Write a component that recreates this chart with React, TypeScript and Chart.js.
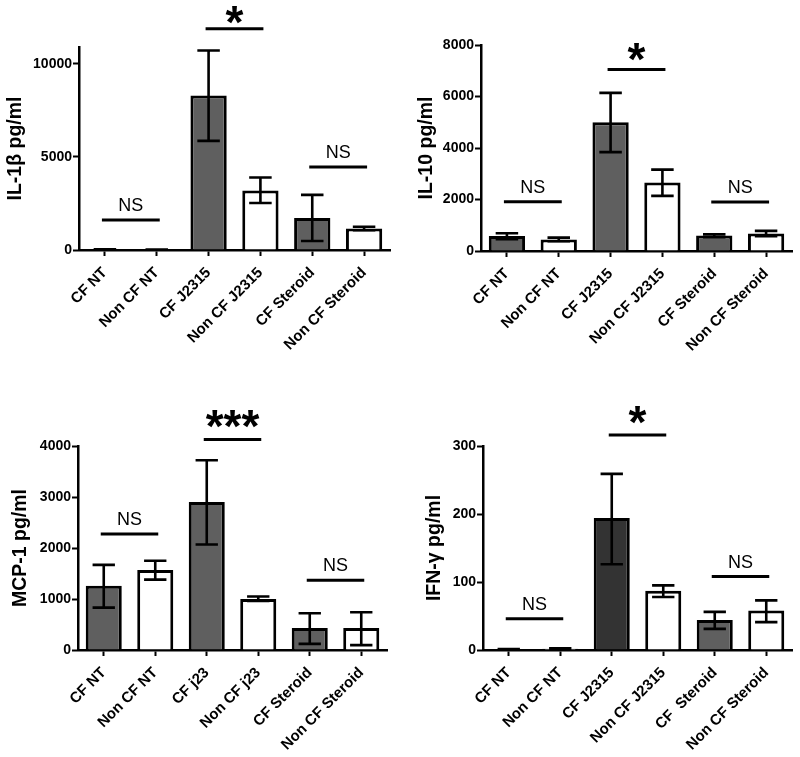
import React, { useEffect, useRef } from 'react';
import { Chart, registerables } from 'chart.js';

Chart.register(...registerables);

const FONT = "'Liberation Sans', Arial, Helvetica, sans-serif";

// ---------- data ----------
const labelsStd = ['CF NT', 'Non CF NT', 'CF J2315', 'Non CF J2315', 'CF Steroid', 'Non CF Steroid'];
const labelsMcp = ['CF NT', 'Non CF NT', 'CF j23', 'Non CF j23', 'CF Steroid', 'Non CF Steroid'];
const labelsIfn = ['CF NT', 'Non CF NT', 'CF J2315', 'Non CF J2315', 'CF  Steroid', 'Non CF Steroid'];

const il1bMean = [30, 20, 8300, 3200, 1720, 1150];
const il1bLow = [20, 10, 5860, 2520, 480, 1060];
const il1bHigh = [40, 30, 10710, 3890, 2960, 1250];
const il1bTicks = [0, 5000, 10000];
const il1bSig = ['NS', '*', 'NS'];
const il1bSigLevel = [1610, 11880, 4460];

const il10Mean = [580, 450, 5000, 2660, 600, 680];
const il10Low = [460, 380, 3840, 2140, 540, 570];
const il10High = [690, 520, 6140, 3160, 650, 780];
const il10Ticks = [0, 2000, 4000, 6000, 8000];
const il10Sig = ['NS', '*', 'NS'];
const il10SigLevel = [1915, 7050, 1900];

const mcp1Mean = [1260, 1570, 2900, 1000, 430, 430];
const mcp1Low = [830, 1380, 2070, 960, 120, 95];
const mcp1High = [1670, 1750, 3720, 1050, 720, 740];
const mcp1Ticks = [0, 1000, 2000, 3000, 4000];
const mcp1Sig = ['NS', '***', 'NS'];
const mcp1SigLevel = [2276, 4129, 1370];

const ifngMean = [1, 2, 194, 87, 44, 58];
const ifngLow = [0.5, 1.5, 126, 78, 31, 41];
const ifngHigh = [1.5, 2.5, 259, 95, 56, 73];
const ifngTicks = [0, 100, 200, 300];
const ifngSig = ['NS', '*', 'NS'];
const ifngSigLevel = [46, 316, 108];

const sigPairs = [[0, 1], [2, 3], [4, 5]];

const GRAY = '#5f5f5f';
const DARK = '#333333';

type PanelProps = {
  left: number; top: number; width: number; height: number;
  labels: string[]; mean: number[]; low: number[]; high: number[];
  colors: string[];
  sig: string[]; sigLevel: number[];
  yMax: number; yTicks: number[]; yTitle: string; titlePad: number;
  axisW: number; axisH: number; padTop: number; padRight: number;
  starOffset: number;
};

function Panel(p: PanelProps) {
  const ref = useRef<HTMLCanvasElement>(null);
  useEffect(() => {
    if (!ref.current) return;
    const overlay = {
      id: 'overlay',
      afterDatasetsDraw(chart: any) {
        const ctx = chart.ctx;
        const y = chart.scales.y;
        const meta = chart.getDatasetMeta(0);
        ctx.save();
        ctx.strokeStyle = '#000';
        ctx.lineWidth = 2.6;
        meta.data.forEach((bar: any, i: number) => {
          const cx = bar.x;
          const hw = bar.width * 0.31;
          const yl = y.getPixelForValue(p.low[i]);
          const yh = y.getPixelForValue(p.high[i]);
          ctx.beginPath();
          ctx.moveTo(cx, yl); ctx.lineTo(cx, yh);
          ctx.moveTo(cx - hw, yl); ctx.lineTo(cx + hw, yl);
          ctx.moveTo(cx - hw, yh); ctx.lineTo(cx + hw, yh);
          ctx.stroke();
        });
        ctx.lineWidth = 3;
        sigPairs.forEach(([a, b], k) => {
          const xa = meta.data[a].x - 3;
          const xb = meta.data[b].x + 3;
          const ly = y.getPixelForValue(p.sigLevel[k]);
          ctx.beginPath(); ctx.moveTo(xa, ly); ctx.lineTo(xb, ly); ctx.stroke();
          const txt = p.sig[k];
          const isStar = txt.includes('*');
          ctx.font = isStar ? `bold 46px ${FONT}` : `18px ${FONT}`;
          ctx.fillStyle = '#000';
          ctx.textAlign = 'center';
          ctx.textBaseline = 'alphabetic';
          const m = ctx.measureText(txt);
          const d = isStar ? p.starOffset : 15.5;
          const ty = ly - d + (m.actualBoundingBoxAscent - m.actualBoundingBoxDescent) / 2;
          ctx.fillText(txt, (xa + xb) / 2, ty);
        });
        ctx.restore();
      },
    };
    const chart = new Chart(ref.current, {
      type: 'bar',
      data: {
        labels: p.labels,
        datasets: [{
          data: p.mean,
          backgroundColor: p.colors,
          borderColor: '#000',
          borderWidth: 3,
          barPercentage: 0.7,
          categoryPercentage: 1,
        }],
      },
      options: {
        responsive: false,
        animation: false,
        devicePixelRatio: 1,
        layout: { padding: { left: 0, right: p.padRight, top: p.padTop, bottom: 0 } },
        plugins: { legend: { display: false }, tooltip: { enabled: false } },
        scales: {
          x: {
            grid: { offset: false, drawOnChartArea: false, drawTicks: true, tickLength: 6, tickColor: '#000', tickWidth: 2 },
            border: { display: true, color: '#000', width: 2.5 },
            ticks: {
              autoSkip: false, minRotation: 45, maxRotation: 45, color: '#000', padding: 8,
              font: { family: FONT, size: 15, weight: 'bold' },
            },
            afterFit: (s: any) => { s.height = p.axisH; s.paddingLeft = 0; s.paddingRight = 0; },
          },
          y: {
            min: 0, max: p.yMax,
            grid: { drawOnChartArea: false, drawTicks: true, tickLength: 6, tickColor: '#000', tickWidth: 2 },
            border: { display: true, color: '#000', width: 2.5 },
            ticks: {
              autoSkip: false, color: '#000', padding: 1,
              font: { family: FONT, size: 14, weight: 'bold' },
              callback: (v: any) => String(v),
            },
            afterBuildTicks: (s: any) => { s.ticks = p.yTicks.map((v) => ({ value: v })); },
            title: {
              display: true, text: p.yTitle, color: '#000',
              font: { family: FONT, size: 19.5, weight: 'bold' },
              padding: { top: p.titlePad, bottom: 0 },
            },
            afterFit: (s: any) => { s.width = p.axisW; },
          },
        },
      } as any,
      plugins: [overlay],
    });
    return () => chart.destroy();
  }, []);
  return (
    <canvas
      ref={ref}
      width={p.width}
      height={p.height}
      style={{ position: 'absolute', left: p.left, top: p.top, width: p.width, height: p.height }}
    />
  );
}

export default function App() {
  const g = GRAY, d = DARK;
  return (
    <div style={{ position: 'absolute', left: 0, top: 0, width: 800, height: 757, background: '#fff' }}>
      <Panel left={0} top={0} width={400} height={380}
        labels={labelsStd} mean={il1bMean} low={il1bLow} high={il1bHigh}
        colors={[g, '#fff', g, '#fff', g, '#fff']}
        sig={il1bSig} sigLevel={il1bSigLevel}
        yMax={10900} yTicks={il1bTicks} yTitle="IL-1β pg/ml" titlePad={4}
        axisW={79} axisH={130} padTop={47} padRight={10} starOffset={14} />
      <Panel left={400} top={0} width={400} height={380}
        labels={labelsStd} mean={il10Mean} low={il10Low} high={il10High}
        colors={[g, '#fff', g, '#fff', g, '#fff']}
        sig={il10Sig} sigLevel={il10SigLevel}
        yMax={8000} yTicks={il10Ticks} yTitle="IL-10 pg/ml" titlePad={15}
        axisW={81} axisH={129} padTop={45} padRight={8} starOffset={17} />
      <Panel left={0} top={380} width={400} height={377}
        labels={labelsMcp} mean={mcp1Mean} low={mcp1Low} high={mcp1High}
        colors={[g, '#fff', g, '#fff', g, '#fff']}
        sig={mcp1Sig} sigLevel={mcp1SigLevel}
        yMax={4000} yTicks={mcp1Ticks} yTitle="MCP-1 pg/ml" titlePad={9}
        axisW={78} axisH={107} padTop={66} padRight={13} starOffset={20} />
      <Panel left={400} top={380} width={400} height={377}
        labels={labelsIfn} mean={ifngMean} low={ifngLow} high={ifngHigh}
        colors={[g, '#fff', d, '#fff', g, '#fff']}
        sig={ifngSig} sigLevel={ifngSigLevel}
        yMax={300} yTicks={ifngTicks} yTitle="IFN-γ pg/ml" titlePad={23}
        axisW={83} axisH={107} padTop={66} padRight={8} starOffset={20} />
    </div>
  );
}
